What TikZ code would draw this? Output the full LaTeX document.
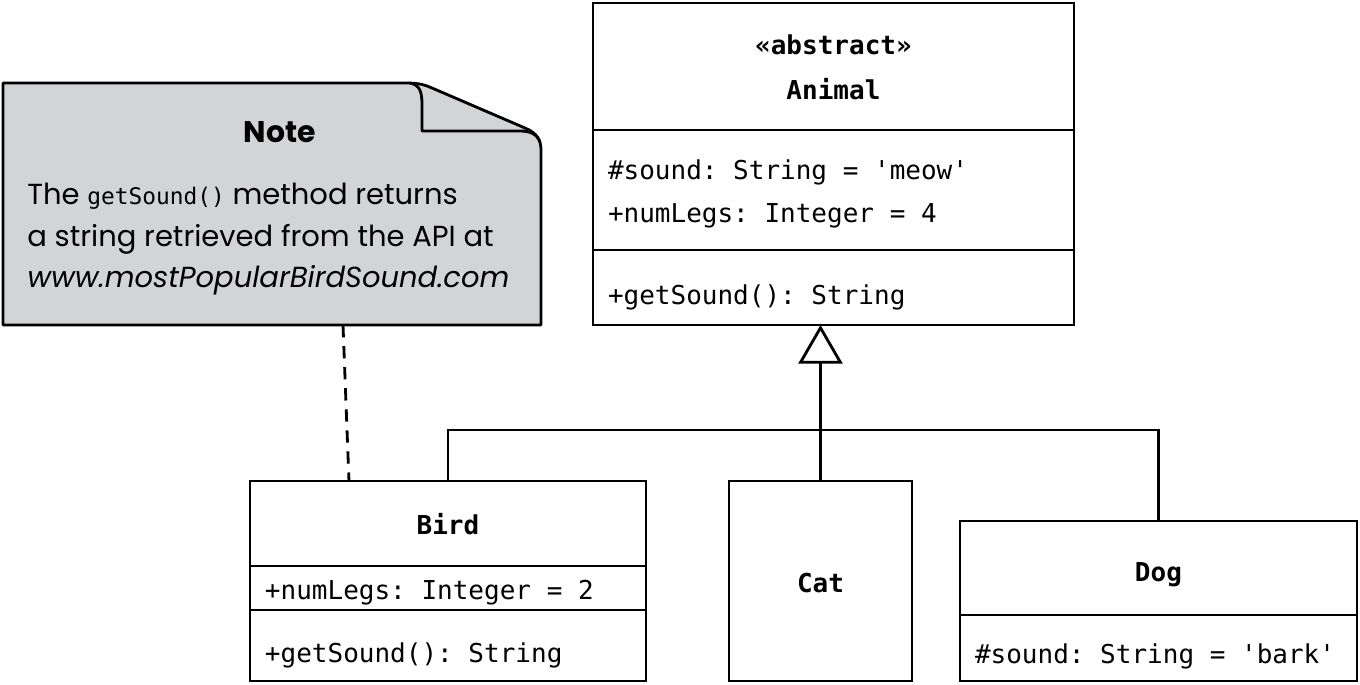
\documentclass[tikz,border=0pt]{standalone}
\usepackage{fontspec}
\setmainfont{Poppins}
\setmonofont{DejaVu Sans Mono}
\usetikzlibrary{positioning,arrows.meta}
\definecolor{notegray}{RGB}{211,212,214}
\newcommand{\umlfont}{\fontsize{14.8}{24.4}\selectfont\ttfamily\frenchspacing}
\tikzset{
  umlbox/.style={draw, line width=1.6pt, outer sep=0pt, inner xsep=0.3cm, inner ysep=0pt, font=\umlfont,
    execute at begin node={\spaceskip=0.602em\relax}},
  umlhead/.style={umlbox, align=center, font=\umlfont\bfseries},
  umlattr/.style={umlbox, align=left},
  link/.style={line width=1.6pt}
}
\begin{document}
\begin{tikzpicture}[x=0.02cm, y=-0.02cm]
  \useasboundingbox (0,0) rectangle (1360,684);

  \draw[line width=1.6pt, fill=notegray, line join=round] (3,83) -- (405,83) .. controls (420,83) and (425,85) .. (432,88) -- (525,128) .. controls (537,133) and (541,140) .. (541,150) -- (541,325) -- (3,325) -- cycle;
  \draw[line width=1.6pt, line join=round] (410,83) .. controls (420,85) and (422,92) .. (422,105) -- (422,131) -- (520,131) .. controls (530,131) and (537,134) .. (540,142);
  \node[font=\fontsize{17}{23.5}\selectfont\bfseries] (notetitle) at (280,132) {Note};
  \node[anchor=north west, inner sep=0pt, align=left, font=\fontsize{16.5}{23.5}\selectfont] (notebody) at (27,183)
    {The {\ttfamily\frenchspacing\fontsize{13}{23.5}\selectfont getSound()} method returns\\a string retrieved from the API at\\\textit{www.mostPopularBirdSound.com}};
  \coordinate (notefoot) at (343,325);

  \node[umlhead, anchor=north west, text width=9.02cm, text height=1.04cm, text depth=1.5cm, font=\umlfont\bfseries\fontsize{14.8}{25.5}\selectfont] (animalhead) at (593,3) {«abstract»\\Animal};
  \node[umlattr, text width=9.02cm, text height=1.0cm, text depth=1.4cm, below=0pt of animalhead] (animalattr) {\#sound: String = 'meow'\\+numLegs: Integer = 4};
  \node[umlattr, text width=9.02cm, text height=1.1cm, text depth=0.4cm, below=0pt of animalattr] (animalops) {+getSound(): String};

  \node[umlhead, anchor=north west, text width=7.32cm, text height=1.08cm, text depth=0.62cm] (birdhead) at (250,481) {Bird};
  \node[umlattr, text width=7.32cm, text height=0.68cm, text depth=0.2cm, below=0pt of birdhead] (birdattr) {+numLegs: Integer = 2};
  \node[umlattr, text width=7.32cm, text height=1.06cm, text depth=0.36cm, below=0pt of birdattr] (birdops) {+getSound(): String};

  \node[umlhead, anchor=north west, text width=3.06cm, text height=2.24cm, text depth=1.76cm] (cathead) at (729,481) {Cat};

  \node[umlhead, anchor=north west, text width=7.34cm, text height=1.22cm, text depth=0.66cm] (doghead) at (960,521) {Dog};
  \node[umlattr, text width=7.34cm, text height=0.98cm, text depth=0.34cm, below=0pt of doghead] (dogattr) {\#sound: String = 'bark'};

  \coordinate (bus) at (820,430);
  \draw[link] (birdhead.north) |- (bus) -| (doghead.north);
  \draw[link, -{Triangle[open, length=22pt, width=25pt, fill=white]}] (cathead.north) -- (cathead.north |- animalops.south);
  \draw[link, dashed, dash pattern=on 7pt off 5pt] (notefoot) -- ([xshift=1.98cm]birdhead.north west);
\end{tikzpicture}
\end{document}
